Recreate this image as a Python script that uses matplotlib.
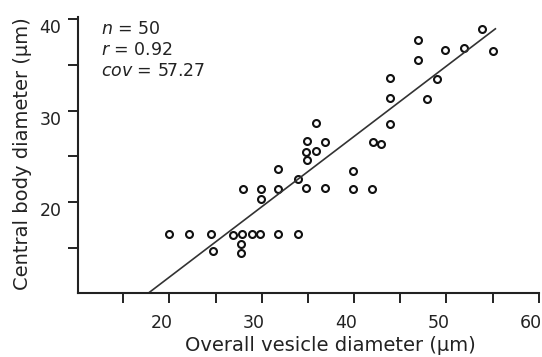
import matplotlib
matplotlib.use("Agg")
import matplotlib.pyplot as plt
import matplotlib.transforms as mtransforms
import numpy as np

# Data
overall_diameter = [20.0, 22.1, 24.5, 24.7, 26.9, 27.9, 27.8, 27.7, 28.9, 29.8,
                    31.8, 33.9, 28.0, 29.9, 29.9, 31.8, 31.8, 33.9, 34.8, 36.8,
                    39.9, 39.9, 41.9, 34.8, 35.9, 34.9, 34.9, 36.8, 35.9, 42.0,
                    42.9, 43.9, 43.9, 43.9, 46.9, 46.9, 49.0, 47.9, 49.8, 51.9,
                    53.9, 55.0]
central_diameter = [16.6, 16.6, 16.5, 14.7, 16.4, 16.5, 15.5, 14.5, 16.6, 16.6,
                    16.6, 16.6, 21.5, 21.5, 20.4, 21.5, 23.6, 22.5, 21.6, 21.6,
                    23.4, 21.4, 21.4, 25.5, 25.6, 24.6, 26.7, 26.6, 28.7, 26.6,
                    26.4, 33.6, 31.4, 28.5, 37.7, 35.5, 33.4, 31.3, 36.6, 36.8,
                    38.9, 36.5]
fit_slope = 0.767
fit_intercept = -3.49
fit_x_range = [17.7, 55.3]

stats_lines = [(r"$n$", "50"), (r"$r$", "0.92"), (r"$cov$", "57.27")]
x_major = [20, 30, 40, 50, 60]
y_major = [20, 30, 40]

plt.rcParams['font.family'] = ['DejaVu Sans']
plt.rcParams['mathtext.fontset'] = 'custom'
plt.rcParams['mathtext.it'] = 'DejaVu Sans:italic'
plt.rcParams['mathtext.rm'] = 'DejaVu Sans'

fig = plt.figure(figsize=(5.42, 3.57), dpi=100)
ax = fig.add_axes([0.144, 0.179, 0.850, 0.773])

ax.plot(overall_diameter, central_diameter, linestyle='none', marker='o',
        markersize=5.0, markerfacecolor='none', markeredgecolor='#111111',
        markeredgewidth=1.5, clip_on=False)
fx = np.array(fit_x_range)
ax.plot(fx, fit_slope * fx + fit_intercept, color='#333333', linewidth=1.2)

ax.set_xlim(10.1, 60)
ax.set_ylim(10.1, 40.2)
ax.set_xticks(x_major)
ax.set_xticks(np.arange(15, 61, 5), minor=True)
ax.set_yticks(y_major)
ax.set_yticks(np.arange(15, 41, 5), minor=True)

for s in ['top', 'right']:
    ax.spines[s].set_visible(False)
for s in ['left', 'bottom']:
    ax.spines[s].set_linewidth(1.5)
    ax.spines[s].set_color('#222222')

ax.tick_params(which='both', direction='out', length=7, width=1.4, color='#222222')
ax.tick_params(axis='x', which='major', labelsize=12.5, pad=8, labelcolor='#222222')
ax.tick_params(axis='y', which='major', labelsize=12.5, pad=5, labelcolor='#222222')

# the printed figure has tick labels slightly offset from their ticks
xshift = mtransforms.ScaledTranslation(-8 / 100, 0, fig.dpi_scale_trans)
for lbl in ax.get_xticklabels():
    lbl.set_transform(lbl.get_transform() + xshift)
yshift = mtransforms.ScaledTranslation(0, -7 / 100, fig.dpi_scale_trans)
for lbl in ax.get_yticklabels():
    lbl.set_transform(lbl.get_transform() + yshift)

ax.set_xlabel("Overall vesicle diameter (µm)", fontsize=14, color='#222222')
ax.xaxis.set_label_coords(0.547, -0.19)
ax.xaxis.label.set_va('center')
ax.set_ylabel("Central body diameter (µm)", fontsize=14, color='#222222')
ax.yaxis.set_label_coords(-0.121, 0.507)
ax.yaxis.label.set_va('center')

# statistics annotation
for i, (sym, val) in enumerate(stats_lines):
    ax.text(0.05, 0.99 - i * 0.077, f"{sym} = {val}", transform=ax.transAxes,
            fontsize=12.5, va='top', ha='left', color='#222222')

fig.savefig("out.png", dpi=100)
